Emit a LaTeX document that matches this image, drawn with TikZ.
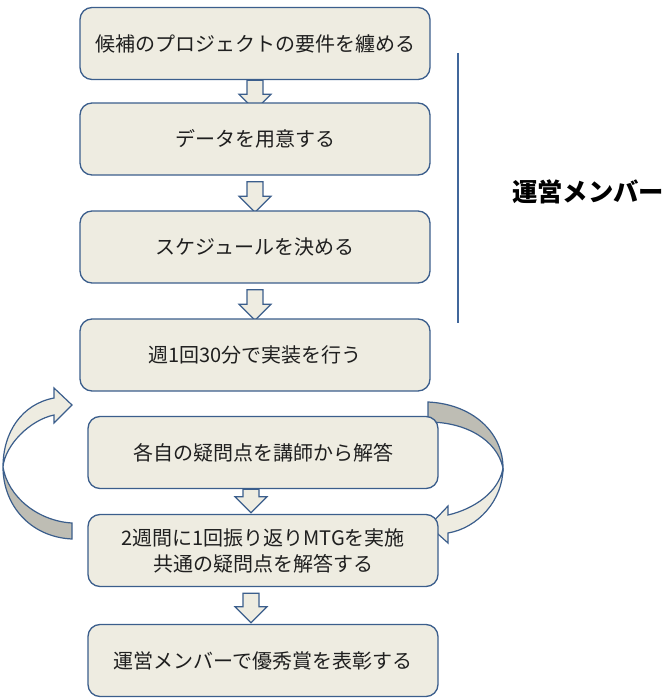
\documentclass[tikz,border=0pt]{standalone}
\usepackage{fontspec}
\setmainfont{Noto Sans CJK JP}
\usetikzlibrary{calc,backgrounds}
\definecolor{fondo}{HTML}{EEECE1}
\definecolor{borde}{HTML}{3B5E8C}
\definecolor{dorso}{HTML}{BEBDB4}
\definecolor{linea}{HTML}{41679B}
\tikzset{
  caja/.style={draw=borde,fill=fondo,line width=1pt,rounded corners=9pt,minimum width=262.5pt,minimum height=54pt,align=center,text=black!88,font=\fontsize{15}{19.5}\selectfont},
  flecha/.style={draw=borde,fill=fondo,line width=.9pt,line join=miter}
}
% flecha de bloque: [dx] desde, hasta, separacion, punta
\newcommand{\bajar}[5][0]{%
  \coordinate (ini) at ($(#2.south)+(#1,#4)$);
  \coordinate (fin) at ($(#3.north)+(#1,#5)$);
  \draw[flecha] ($(ini)+(-8,0)$) -- ($(ini)+(8,0)$) -- ($(fin)+(8,-16)$) -- ($(fin)+(16,-16)$) -- (fin) -- ($(fin)+(-16,-16)$) -- ($(fin)+(-8,-16)$) -- cycle;}
\begin{document}
\begin{tikzpicture}[x=.75pt,y=-.75pt]
\useasboundingbox (0,0) rectangle (669,699);
% Cajas
\node[caja] (paso1) at (255,43.5) {候補のプロジェクトの要件を纏める};
\node[caja] (paso2) at (255,139) {データを用意する};
\node[caja] (paso3) at (255,247) {スケジュールを決める};
\node[caja] (paso4) at (255,355) {週1回30分で実装を行う};
\node[caja] (paso5) at (263,452.5) {各自の疑問点を講師から解答};
\node[caja] (paso6) at (263,550.5) {2週間に1回振り返りMTGを実施\\共通の疑問点を解答する};
\node[caja] (paso7) at (263,660.5) {運営メンバーで優秀賞を表彰する};

\draw[linea,line width=1.2pt] (458,53) -- (458,323);
\node[font=\fontsize{19}{22}\selectfont\bfseries] (equipo) at (588,192) {運営メンバー};

\begin{pgfonlayer}{background}
% Flechas
\bajar{paso1}{paso2}{0}{8}
\bajar{paso2}{paso3}{6}{2}
\bajar{paso3}{paso4}{6}{2}
\bajar[-12]{paso5}{paso6}{0}{-1}
\bajar[-12]{paso6}{paso7}{6}{-1}

% Ciclo izquierdo
\draw[flecha,fill=dorso] (72,523) -- (72,539) .. controls (30,537) and (3,505) .. (3,467) .. controls (8,497) and (38,521) .. (72,523) -- cycle;
\draw[flecha] (3,467) .. controls (3,432) and (22,404) .. (54,398) -- (54,388) -- (72,405) -- (54,423) -- (54,415) .. controls (30,420) and (5,445) .. (3,467) -- cycle;
% Ciclo derecho
\draw[flecha,fill=dorso] (428,402) .. controls (472,404) and (503,432) .. (503,468) .. controls (497,440) and (466,422) .. (428,422) -- cycle;
\draw[flecha] (503,468) .. controls (503,500) and (478,528) .. (448,533) -- (448,543) -- (429,526) -- (448,506) -- (448,515) .. controls (474,509) and (499,492) .. (503,468) -- cycle;
\end{pgfonlayer}
\end{tikzpicture}
\end{document}
